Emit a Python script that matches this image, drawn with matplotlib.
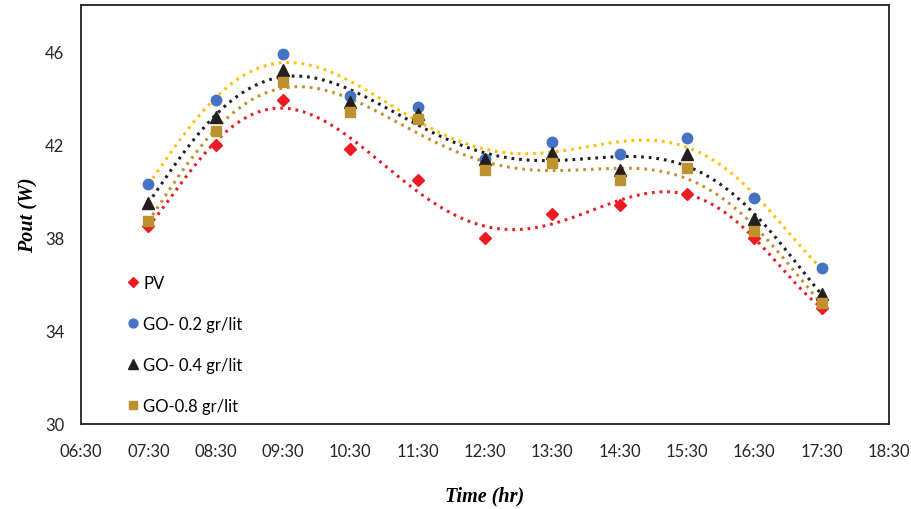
import matplotlib.pyplot as plt
import numpy as np

# time in hours (07:30 ... 17:30)
hours = [7.5, 8.5, 9.5, 10.5, 11.5, 12.5, 13.5, 14.5, 15.5, 16.5, 17.5]
tick_pos = [6.5, 7.5, 8.5, 9.5, 10.5, 11.5, 12.5, 13.5, 14.5, 15.5, 16.5, 17.5, 18.5]
tick_labels = ['06:30', '07:30', '08:30', '09:30', '10:30', '11:30', '12:30',
               '13:30', '14:30', '15:30', '16:30', '17:30', '18:30']

pv    = [38.5, 42.0, 43.9, 41.8, 40.5, 38.0, 39.0, 39.4, 39.9, 38.0, 35.0]
go_02 = [40.3, 43.9, 45.9, 44.1, 43.6, 41.4, 42.1, 41.6, 42.3, 39.7, 36.7]
go_04 = [39.5, 43.2, 45.2, 43.85, 43.3, 41.4, 41.65, 40.9, 41.6, 38.8, 35.6]
go_08 = [38.7, 42.6, 44.7, 43.4, 43.1, 40.9, 41.2, 40.5, 41.0, 38.3, 35.2]

fig = plt.figure(figsize=(9.11, 5.10), dpi=100)
ax = fig.add_axes([0.0889, 0.1667, 0.8869, 0.8216])

tick_font = 'Lato'
series = [
    (pv, 'PV', 'D', 6, '#ED1C24', '#ED1C24'),
    (go_02, 'GO- 0.2 gr/lit', 'o', 7.5, '#4472C4', '#FFC000'),
    (go_04, 'GO- 0.4 gr/lit', '^', 8.5, '#231F20', '#231F20'),
    (go_08, 'GO-0.8 gr/lit', 's', 7.5, '#BF9230', '#BF9230'),
]

x = np.array(hours)
xs = np.linspace(x[0], x[-1], 300)
# trendlines first (6th order polynomial, like the spreadsheet trendline)
for vals, lab, mk, ms, col, tcol in series:
    c = np.polyfit(x - 12.5, vals, 6)
    ax.plot(xs, np.polyval(c, xs - 12.5), color=tcol, lw=2.2, ls=(0, (0.9, 1.6)), zorder=2)
for vals, lab, mk, ms, col, tcol in series:
    ax.plot(x, vals, mk, ms=ms, color=col, mec=col, label=lab, zorder=3)

ax.set_xlim(6.5, 18.5)
ax.set_ylim(30, 48)
ax.set_xticks(tick_pos)
ax.set_xticklabels(tick_labels, fontname=tick_font, fontsize=12, color='#262626')
ax.set_yticks([30, 34, 38, 42, 46])
ax.set_yticklabels(['30', '34', '38', '42', '46'], fontname=tick_font, fontsize=12, color='#262626')
ax.tick_params(length=0, pad=14)
ax.tick_params(axis='y', pad=12)
for s in ax.spines.values():
    s.set_linewidth(1.3)
    s.set_color('#222222')

ax.set_xlabel('Time (hr)', fontname='Liberation Serif', fontsize=14.5, fontweight='bold',
              style='italic', labelpad=19)
ax.set_ylabel('Pout (W)', fontname='Liberation Serif', fontsize=14.5, fontweight='bold',
              style='italic', labelpad=5)

leg = ax.legend(loc='lower left', bbox_to_anchor=(0.036, -0.012), frameon=False,
                prop={'family': tick_font, 'size': 12}, handletextpad=0.1,
                handlelength=1.0, labelspacing=1.5, markerscale=0.85)

fig.savefig('out.png', dpi=100)
